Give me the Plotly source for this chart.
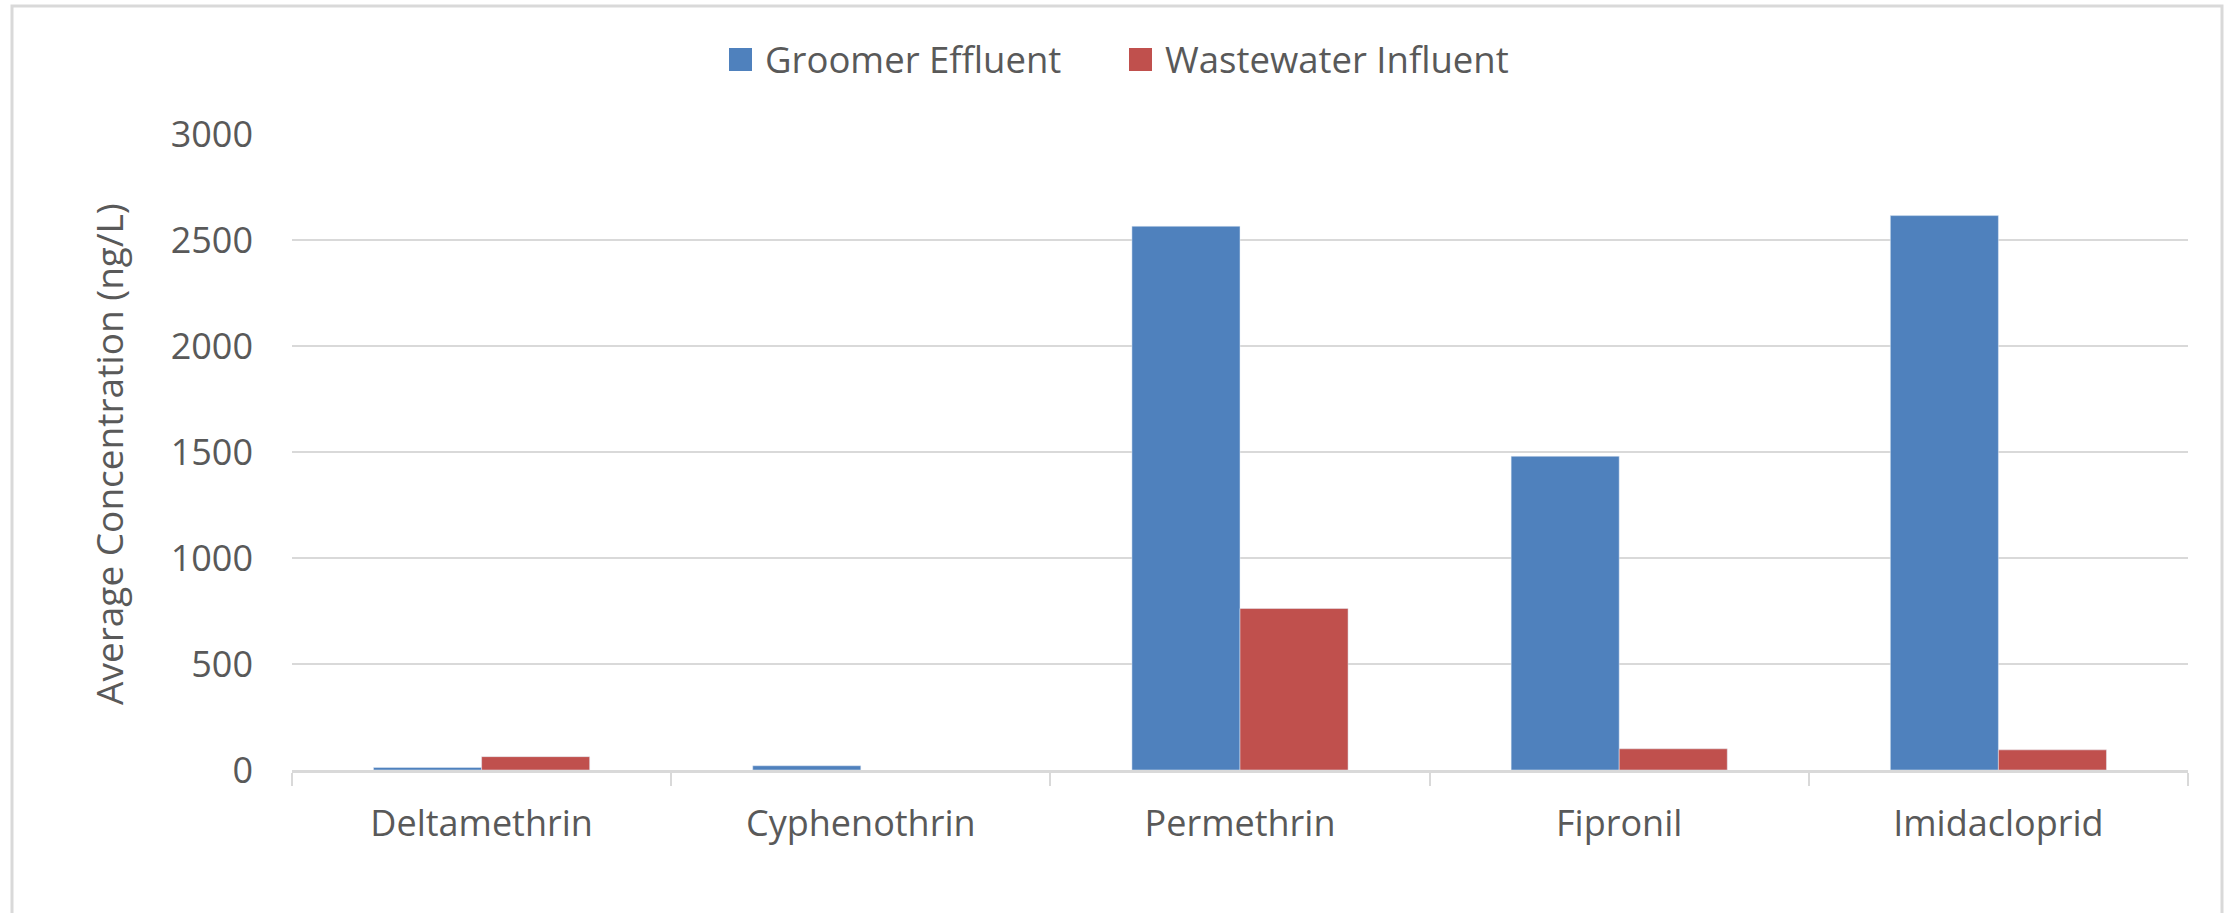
import plotly.graph_objects as go

# ---------------- DATA ----------------
compounds = ["Deltamethrin", "Cyphenothrin", "Permethrin", "Fipronil", "Imidacloprid"]
groomer_effluent = [12, 20, 2565, 1480, 2615]
wastewater_influent = [63, None, 762, 100, 95]
y_ticks = [0, 500, 1000, 1500, 2000, 2500, 3000]

BLUE = '#4f81bd'
RED = '#c0504d'
GREY_TXT = '#595959'
GREY_LN = '#d9d9d9'
FONT = 'Open Sans'

# plot area in pixels (page is 2229 x 913)
W, H = 2229, 913
L, R, T, B = 292, 2188, 134, 770


def px_x(x):
    return (x - L) / (R - L)


def px_y(y):
    return (B - y) / (B - T)


fig = go.Figure()
fig.add_bar(x=compounds, y=groomer_effluent, name='Groomer Effluent',
            marker_color=BLUE, showlegend=False)
fig.add_bar(x=compounds, y=wastewater_influent, name='Wastewater Influent',
            marker_color=RED, showlegend=False)

fig.update_layout(
    width=W, height=H,
    margin=dict(l=L, r=W - R, t=T, b=H - B),
    paper_bgcolor='white', plot_bgcolor='white',
    barmode='group', bargap=0.43, bargroupgap=0,
    font=dict(family=FONT, size=36, color=GREY_TXT),
    xaxis=dict(
        showline=True, linecolor=GREY_LN, linewidth=3,
        ticks='outside', tickson='boundaries', ticklen=13, tickwidth=2, tickcolor=GREY_LN,
        tickfont=dict(size=36, color=GREY_TXT),
        ticklabelstandoff=20,
        showgrid=False,
    ),
    yaxis=dict(
        range=[0, 3000], tickvals=y_ticks,
        showgrid=True, gridcolor=GREY_LN, gridwidth=2,
        zeroline=False, showline=False,
        tickfont=dict(size=36, color=GREY_TXT),
        ticklabelstandoff=38,
    ),
)

# y axis title
fig.add_annotation(text='Average Concentration (ng/L)', textangle=-90,
                   xref='paper', yref='paper', x=px_x(108), y=px_y(454),
                   xanchor='center', yanchor='middle', showarrow=False,
                   font=dict(size=37, color=GREY_TXT))

# legend drawn by hand so the swatches match the original size
legend_items = [('Groomer Effluent', BLUE, 729), ('Wastewater Influent', RED, 1129)]
for label, color, x0 in legend_items:
    fig.add_shape(type='rect', xref='paper', yref='paper',
                  x0=px_x(x0), x1=px_x(x0 + 23), y0=px_y(71), y1=px_y(48),
                  fillcolor=color, line=dict(width=0))
    fig.add_annotation(text=label, xref='paper', yref='paper',
                       x=px_x(x0 + 34), y=px_y(59.5), xanchor='left', yanchor='middle',
                       showarrow=False, font=dict(size=36.5, color=GREY_TXT))

# chart frame
fig.add_shape(type='rect', xref='paper', yref='paper',
              x0=px_x(12), x1=px_x(2222), y0=px_y(1100), y1=px_y(6),
              line=dict(color=GREY_LN, width=3), fillcolor='rgba(0,0,0,0)')

fig.write_html("out.html", config={'displayModeBar': False},
               post_script="document.body.style.margin='0';")
